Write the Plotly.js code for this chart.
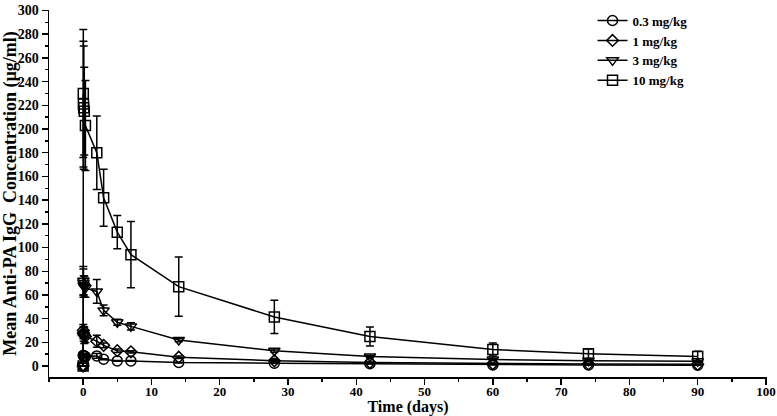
<!DOCTYPE html>
<html>
<head>
<meta charset="utf-8">
<script src="https://cdn.plot.ly/plotly-3.0.1.min.js"></script>
<style>html,body{margin:0;padding:0;background:#fff;}#chart{width:777px;height:416px;}</style>
</head>
<body>
<div id="chart"></div>
<script>
// Sampling times (days): predose, early hours on day 0, then study days
const timeDays = [0, 0.021, 0.042, 0.083, 0.167, 0.333, 2, 3, 5, 7, 14, 28, 42, 60, 74, 90];

const doseLabels = ["0.3 mg/kg", "1 mg/kg", "3 mg/kg", "10 mg/kg"];
const doseSymbols = ["circle-open", "diamond-open", "triangle-down-open", "square-open"];

const mean03 = [0, 9, 9, 8.5, 8, 8, 8.6, 5.8, 4.4, 4.4, 3, 2.5, 2, 1, 1, 0.8];
const sd03   = [0, 1.5, 1.5, 1.5, 1, 1, 2, 0.5, 0.3, 0.3, 0.3, 0.2, 0.2, 0.1, 0.1, 0.1];

const mean1 = [0, 30, 28, 27, 26, 25, 21, 17.5, 13, 12, 7.5, 4.5, 3, 2, 1.8, 1.5];
const sd1   = [0, 5, 5, 6, 7, 5, 5, 2, 1.5, 1, 1, 0.8, 0.5, 0.4, 0.3, 0.3];

const mean3 = [0, 72, 70, 68, 67, 66, 63, 47, 37, 33.5, 22, 13, 8, 5.5, 4.5, 4];
const sd3   = [0, 12, 12, 8, 9, 8, 10, 4.5, 2.5, 3, 1.5, 1.5, 1, 1, 0.8, 0.8];

const mean10 = [0, 230, 221, 218, 215, 203, 180, 142, 113, 94, 67, 41.5, 25, 14, 10.5, 8];
const sd10   = [0, 54, 53, 52, 37, 38, 31, 24, 14, 28, 25, 14, 8, 5.5, 4, 4.5];

const xTicks = [0, 10, 20, 30, 40, 50, 60, 70, 80, 90, 100];
const yTicks = [0, 20, 40, 60, 80, 100, 120, 140, 160, 180, 200, 220, 240, 260, 280, 300];

const means = [mean03, mean1, mean3, mean10];
const sds = [sd03, sd1, sd3, sd10];

const FONT = "'Liberation Serif', 'Times New Roman', serif";

const traces = doseLabels.map((name, i) => ({
  type: "scatter",
  mode: "lines+markers",
  name: name,
  x: timeDays,
  y: means[i],
  line: {color: "#000", width: 1.5},
  marker: {symbol: doseSymbols[i], size: i === 1 ? 9 : 10, color: "#000", line: {width: 1.5, color: "#000"}},
  error_y: {type: "data", array: sds[i], visible: true, color: "#000", thickness: 1.5, width: 4}
}));

const layout = {
  width: 777,
  height: 416,
  margin: {l: 49, r: 10, t: 6, b: 39},
  paper_bgcolor: "#fff",
  plot_bgcolor: "#fff",
  showlegend: true,
  font: {family: FONT, color: "#000", size: 14},
  legend: {
    x: 0.757, y: 1.012, xanchor: "left", yanchor: "top",
    bgcolor: "rgba(0,0,0,0)",
    font: {family: FONT, size: 13, weight: "bold", color: "#000"},
    traceorder: "normal"
  },
  xaxis: {
    range: [-5, 100.15],
    tickmode: "array",
    tickvals: xTicks,
    ticks: "outside",
    ticklen: 6,
    tickwidth: 1.5,
    tickcolor: "#000",
    showline: true,
    linewidth: 1.5,
    linecolor: "#000",
    showgrid: false,
    zeroline: false,
    ticklabeloverflow: "allow",
    ticklabelstandoff: -4,
    tickfont: {family: FONT, size: 13, weight: "bold", color: "#000"},
    minor: {dtick: 5, ticks: "outside", ticklen: 3, tickwidth: 1.5, tickcolor: "#000", showgrid: false},
    title: {text: "Time (days)", font: {family: FONT, size: 16, weight: "bold", color: "#000"}, standoff: 4},
    automargin: false
  },
  yaxis: {
    range: [-9.2, 300.4],
    tickmode: "array",
    tickvals: yTicks,
    ticks: "outside",
    ticklen: 6,
    tickwidth: 1.5,
    tickcolor: "#000",
    showline: true,
    linewidth: 1.5,
    linecolor: "#000",
    showgrid: false,
    zeroline: false,
    tickfont: {family: FONT, size: 14, weight: "bold", color: "#000"},
    minor: {dtick: 10, ticks: "outside", ticklen: 3, tickwidth: 1.5, tickcolor: "#000", showgrid: false},
    title: {text: "Mean Anti-PA IgG  Concentration (µg/ml)", font: {family: FONT, size: 18, weight: "bold", color: "#000"}, standoff: 2},
    automargin: false
  }
};

Plotly.newPlot("chart", traces, layout, {displayModeBar: false, staticPlot: true});
</script>
</body>
</html>
